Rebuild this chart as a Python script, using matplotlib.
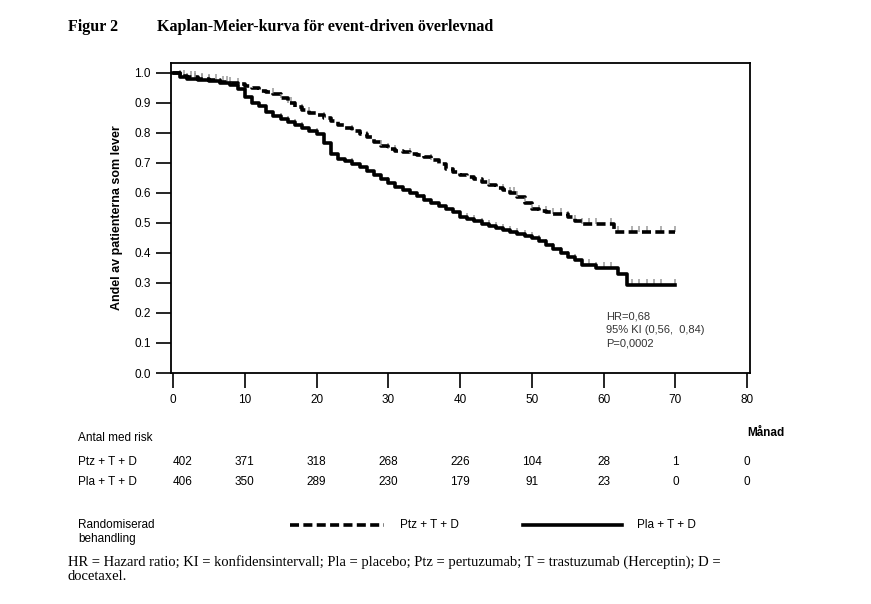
import numpy as np
import matplotlib.pyplot as plt
from matplotlib.lines import Line2D

plt.rcParams['font.family'] = ['Liberation Sans', 'DejaVu Sans']

# Kaplan-Meier steps
ptz_t = [0, 1, 2, 3.5, 5, 6.5, 8, 9, 10, 11, 12, 13, 14, 15, 16, 17, 18, 19, 20, 21, 22, 23, 24, 25, 26,
         27, 28, 29, 30, 31, 32, 33, 34, 35, 36, 37, 38, 39, 40, 41, 42, 43, 44, 45, 46, 47, 48, 49,
         50, 51, 52, 53, 54, 55, 56, 57, 59, 61.5, 70]
ptz_s = [1.0, 0.99, 0.985, 0.98, 0.975, 0.97, 0.965, 0.962, 0.958, 0.95, 0.94, 0.935, 0.93, 0.915, 0.90,
         0.885, 0.875, 0.868, 0.86, 0.85, 0.84, 0.828, 0.818, 0.805, 0.795, 0.785, 0.77, 0.758, 0.745,
         0.74, 0.735, 0.73, 0.725, 0.72, 0.71, 0.695, 0.68, 0.67, 0.66, 0.652, 0.645, 0.635, 0.625, 0.617,
         0.61, 0.6, 0.585, 0.565, 0.545, 0.54, 0.535, 0.53, 0.53, 0.52, 0.505, 0.495, 0.495, 0.47, 0.47]
pla_t = [0, 1, 2, 3.5, 5, 6.5, 8, 9, 10, 11, 12, 13, 14, 15, 16, 17, 18, 19, 20, 21, 22, 23, 24, 25, 26,
         27, 28, 29, 30, 31, 32, 33, 34, 35, 36, 37, 38, 39, 40, 41, 42, 43, 44, 45, 46, 47, 48, 49,
         50, 51, 52, 53, 54, 55, 56, 57, 59, 62, 63.2, 70]
pla_s = [1.0, 0.985, 0.98, 0.975, 0.972, 0.967, 0.96, 0.945, 0.92, 0.9, 0.89, 0.87, 0.855, 0.845, 0.835,
         0.825, 0.815, 0.805, 0.795, 0.765, 0.73, 0.712, 0.705, 0.695, 0.685, 0.673, 0.66, 0.645, 0.633,
         0.62, 0.61, 0.6, 0.59, 0.575, 0.565, 0.555, 0.545, 0.535, 0.52, 0.512, 0.505, 0.498, 0.49,
         0.483, 0.478, 0.47, 0.462, 0.455, 0.45, 0.44, 0.425, 0.412, 0.4, 0.387, 0.375, 0.36, 0.35, 0.33,
         0.292, 0.292]
ptz_cens = [1, 1.5, 2.5, 3, 4, 5, 6, 7, 7.5, 8, 9, 14, 15, 16, 16.5, 17, 18, 19, 21, 25, 27, 29, 30,
            31, 33, 36, 38, 44, 46, 47, 47.5, 48, 49, 50, 51, 52, 53, 54, 55, 56, 57, 58, 59, 61, 62,
            64, 65, 66, 68, 70]
pla_cens = [1, 2, 3, 4, 5, 9, 11, 15, 16, 17, 18, 20, 23, 25, 30, 35, 40, 41, 42, 43, 44, 45, 46, 47,
            48, 49, 50, 51, 52, 53, 54, 55, 56, 57, 58, 59, 60, 61, 62, 64, 65, 66, 67, 68, 70]

risk_x = [0, 10, 20, 30, 40, 50, 60, 70, 80]
risk_ptz = [402, 371, 318, 268, 226, 104, 28, 1, 0]
risk_pla = [406, 350, 289, 230, 179, 91, 23, 0, 0]


def surv_at(t, times, surv):
    idx = np.searchsorted(times, t, side="right") - 1
    return np.array(surv)[idx]


W, H = 871, 604
fig = plt.figure(figsize=(W / 100, H / 100), dpi=100)
ax = fig.add_axes([171 / W, 1 - 373 / H, (750 - 171) / W, (373 - 63) / H])
ax.set_xlim(-0.28, 80.4)
ax.set_ylim(0, 1.033)

for cens, times, surv in [(ptz_cens, ptz_t, ptz_s), (pla_cens, pla_t, pla_s)]:
    c = np.array(cens)
    ax.plot(c, surv_at(c, times, surv) + 0.01, ls="none", marker="|", ms=5, color="#9a9a9a", mew=1.1)
ax.step(ptz_t, ptz_s, where="post", color="black", lw=2.6, ls=(0, (2.5, 1.2)))
ax.step(pla_t, pla_s, where="post", color="black", lw=2.6)

ax.set_xticks(range(0, 81, 10))
ax.set_yticks(np.arange(0, 1.01, 0.1))
ax.set_yticklabels([f"{v:.1f}" for v in np.arange(0, 1.01, 0.1)])
ax.tick_params(axis="both", direction="out", length=11, width=1.2, labelsize=8.5)
ax.tick_params(axis="x", pad=4)
for s in ax.spines.values():
    s.set_linewidth(1.3)
ax.set_ylabel("Andel av patienterna som lever", fontsize=9, fontweight="bold", labelpad=8)

ax.text(60.3, 0.205, "HR=0,68\n95% KI (0,56,  0,84)\nP=0,0002", fontsize=8, color="#333333",
        va="top", linespacing=1.45)

fs = 8.5
fig.text(68 / W, 1 - 27 / H, "Figur 2", fontsize=11.5, fontweight="bold", family="Liberation Serif", va="center")
fig.text(157 / W, 1 - 27 / H, "Kaplan-Meier-kurva för event-driven överlevnad", fontsize=11.5,
         fontweight="bold", family="Liberation Serif", va="center")
fig.text(78 / W, 1 - 438 / H, "Antal med risk", fontsize=fs, va="center")
fig.text(747 / W, 1 - 433 / H, "Månad", fontsize=fs, fontweight="bold", va="center")
fig.text(78 / W, 1 - 462 / H, "Ptz + T + D", fontsize=fs, va="center")
fig.text(78 / W, 1 - 482 / H, "Pla + T + D", fontsize=fs, va="center")
for x, a, b in zip(risk_x, risk_ptz, risk_pla):
    px = (ax.transData.transform((x, 0))[0]) / W
    if x == 0:
        px = 183 / W
    fig.text(px, 1 - 462 / H, str(a), fontsize=fs, ha="center", va="center")
    fig.text(px, 1 - 482 / H, str(b), fontsize=fs, ha="center", va="center")

fig.text(78 / W, 1 - 532 / H, "Randomiserad\nbehandling", fontsize=fs, va="center", linespacing=1.2)
fig.add_artist(Line2D([290 / W, 384 / W], [1 - 525 / H] * 2, color="black", lw=2.6, ls=(0, (2.5, 1.2))))
fig.text(400 / W, 1 - 525 / H, "Ptz + T + D", fontsize=fs, va="center")
fig.add_artist(Line2D([523 / W, 622 / W], [1 - 525 / H] * 2, color="black", lw=2.6))
fig.text(637 / W, 1 - 525 / H, "Pla + T + D", fontsize=fs, va="center")
fig.text(68 / W, 1 - 569 / H,
         "HR = Hazard ratio; KI = konfidensintervall; Pla = placebo; Ptz = pertuzumab; T = trastuzumab (Herceptin); D =\ndocetaxel.",
         fontsize=10.5, family="Liberation Serif", va="center", linespacing=1.1)

fig.savefig("out.png", dpi=100)
